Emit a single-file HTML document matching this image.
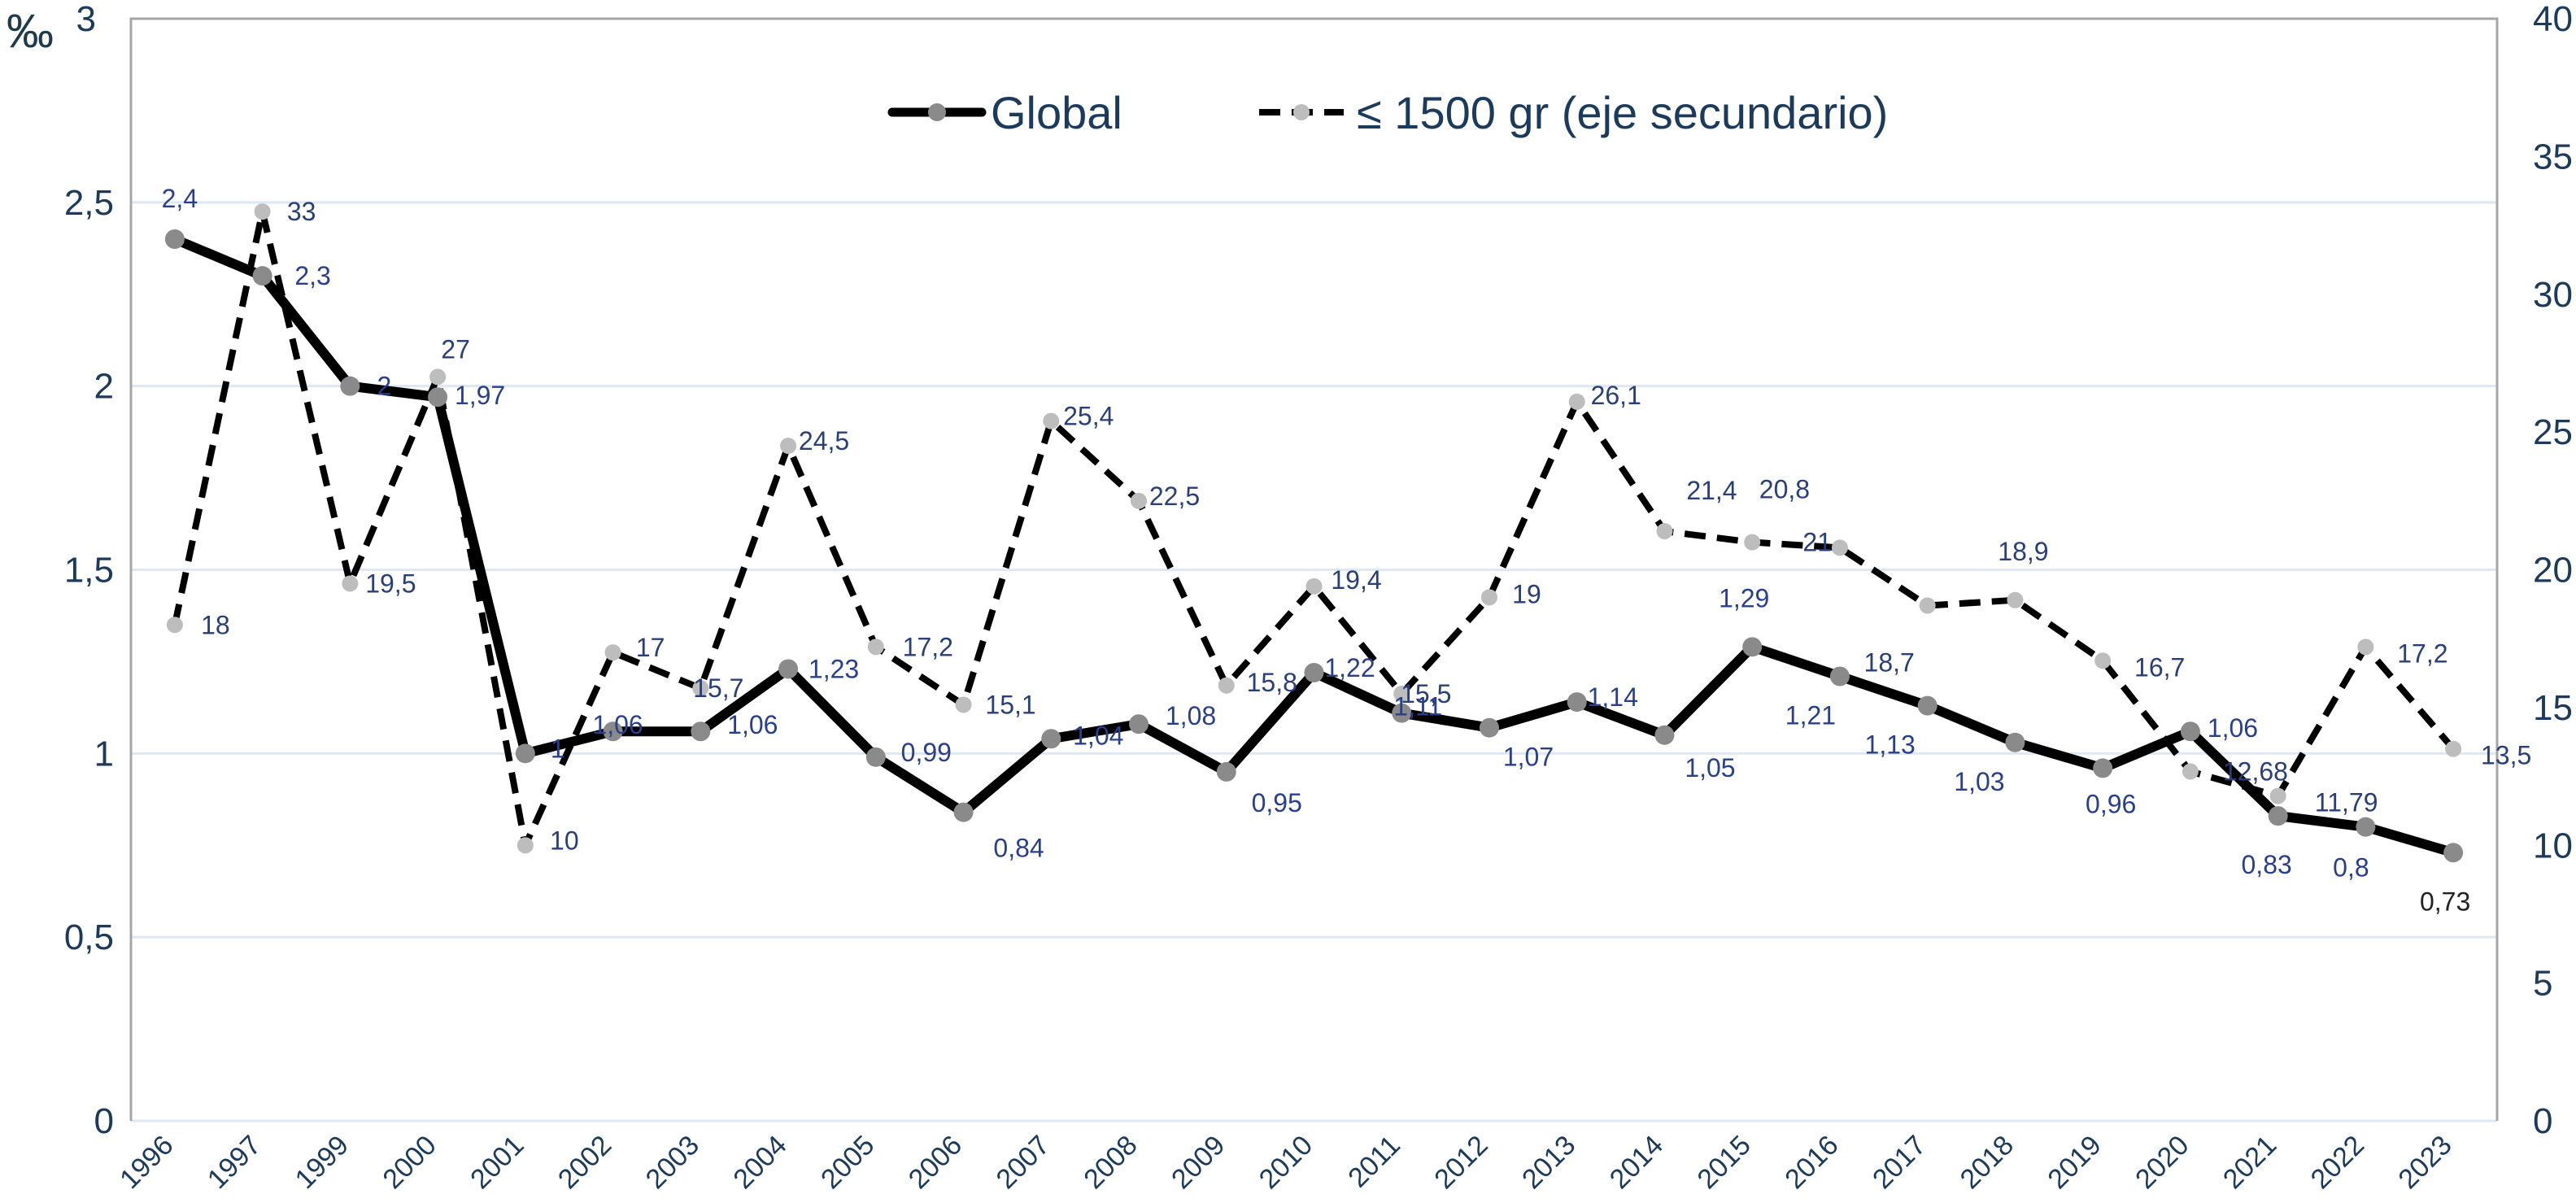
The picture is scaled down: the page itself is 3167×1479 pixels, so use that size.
<!DOCTYPE html>
<html><head><meta charset="utf-8"><style>
html,body{margin:0;padding:0;background:#fff;}
svg{display:block;font-family:"Liberation Sans",sans-serif;}
</style></head><body>
<svg id="chart" width="3167" height="1479" viewBox="0 0 3167 1479" xmlns="http://www.w3.org/2000/svg">
<rect x="0" y="0" width="3167" height="1479" fill="#fff"/>
<g id="grid"></g>
<g id="axes"></g>
<g id="series2"></g>
<g id="series1"></g>
<g id="labels"></g>
<text x="8" y="58" font-size="58" fill="#1d3b4a">‰</text>
<g>
 <g>
  <line x1="1097" y1="138" x2="1207" y2="138" stroke="#000" stroke-width="11" stroke-linecap="round"/>
  <circle cx="1152" cy="138" r="11" fill="#8a8a8a"/>
  <text x="1218" y="158" font-size="56" fill="#1b3a5c">Global</text>
 </g>
 <g>
  <line x1="1548" y1="138" x2="1652" y2="138" stroke="#000" stroke-width="8" stroke-dasharray="26 14"/>
  <circle cx="1600" cy="138" r="10" fill="#bdbdbd"/>
  <text x="1668" y="158" font-size="56" fill="#1b3a5c">≤ 1500 gr (eje secundario)</text>
 </g>
</g>
</svg>
<script>
const years = ["1996","1997","1999","2000","2001","2002","2003","2004","2005","2006","2007","2008","2009","2010","2011","2012","2013","2014","2015","2016","2017","2018","2019","2020","2021","2022","2023"];
const globalValues = [2.4,2.3,2,1.97,1,1.06,1.06,1.23,0.99,0.84,1.04,1.08,0.95,1.22,1.11,1.07,1.14,1.05,1.29,1.21,1.13,1.03,0.96,1.06,0.83,0.8,0.73];
const vlbwValues = [18,33,19.5,27,10,17,15.7,24.5,17.2,15.1,25.4,22.5,15.8,19.4,15.5,19,26.1,21.4,21,20.8,18.7,18.9,16.7,12.68,11.79,17.2,13.5];
const leftTicks = [0,0.5,1,1.5,2,2.5,3];
const leftTickLabels = ["0","0,5","1","1,5","2","2,5","3"];
const rightTicks = [0,5,10,15,20,25,30,35,40];
// label placement offsets (style, not data)
const gOff = [[6,-50],[62,0],[42,0],[52,-2],[40,-6],[6,-8],[64,-8],[56,0],[62,-6],[68,44],[58,-4],[64,-10],[62,38],[44,-6],[20,-8],[48,36],[44,-6],[56,40],[-10,-60],[-36,48],[-46,48],[-44,48],[10,44],[52,-4],[-14,60],[-18,50],[-10,60]];
const sOff = [[50,0],[48,0],[50,0],[22,-34],[48,-6],[46,-6],[22,0],[44,-6],[64,0],[58,0],[46,-6],[44,-6],[56,-4],[52,-8],[30,0],[46,-4],[48,-8],[58,-50],[80,0],[-68,-72],[-47,70],[10,-60],[70,8],[80,0],[84,8],[70,8],[65,8]];

const NS="http://www.w3.org/2000/svg";
const L=161, R=3070, T=23, B=1378;
const band=(R-L)/years.length;
const xPos=i=>L+(i+0.5)*band;
const yL=v=>B-(v/3)*(B-T);
const yR=v=>B-(v/40)*(B-T);
const fmt=v=>String(v).replace('.',',');
function mk(tag,attrs,parent){const e=document.createElementNS(NS,tag);for(const k in attrs)e.setAttribute(k,attrs[k]);parent.appendChild(e);return e;}
const grid=document.getElementById('grid'),axes=document.getElementById('axes');
leftTicks.forEach((t,i)=>{
  const gl=mk('line',{x1:L,x2:R,y1:yL(t),y2:yL(t),stroke:'#dde8f4','stroke-width':3},grid);
  
  
  const tx=mk('text',{x:i===6?118:140,y:yL(t)+15,'font-size':44,fill:'#1b3a5c','text-anchor':'end'},axes);
  tx.textContent=leftTickLabels[i];
  
  
});
rightTicks.forEach(t=>{
  const tx=mk('text',{x:3114,y:yR(t)+15,'font-size':44,fill:'#1b3a5c'},axes);
  tx.textContent=String(t);
  
  
});
const ax=mk('path',{d:`M${L},${B} V${T} H${R} V${B}`,fill:'none',stroke:'#a6a6a6','stroke-width':3},axes);


years.forEach((y,i)=>{
  const x=xPos(i);
  const tx=mk('text',{x:x,y:1410,'font-size':34,fill:'#1b3a5c','text-anchor':'end',transform:`rotate(-45 ${x} 1410)`},axes);
  tx.textContent=y;
  
  
});
// secondary dashed series
const s2=document.getElementById('series2');
const p2=mk('polyline',{points:vlbwValues.map((v,i)=>xPos(i)+','+yR(v)).join(' '),fill:'none',stroke:'#000','stroke-width':8,'stroke-dasharray':'26 14','stroke-linejoin':'round'},s2);


vlbwValues.forEach((v,i)=>{
  const c=mk('circle',{cx:xPos(i),cy:yR(v),r:10,fill:'#bdbdbd'},s2);
  
  
});
const s1=document.getElementById('series1');
const p1=mk('polyline',{points:globalValues.map((v,i)=>xPos(i)+','+yL(v)).join(' '),fill:'none',stroke:'#000','stroke-width':12,'stroke-linejoin':'round'},s1);


globalValues.forEach((v,i)=>{
  const c=mk('circle',{cx:xPos(i),cy:yL(v),r:12,fill:'#8a8a8a'},s1);
  
  
});
const lg=document.getElementById('labels');
vlbwValues.forEach((v,i)=>{
  const t=mk('text',{x:xPos(i)+sOff[i][0],y:yR(v)+sOff[i][1]+11,'font-size':32,fill:'#283f7a','text-anchor':'middle'},lg);
  t.textContent=fmt(v);
  
  
});
globalValues.forEach((v,i)=>{
  const t=mk('text',{x:xPos(i)+gOff[i][0],y:yL(v)+gOff[i][1]+11,'font-size':32,fill:i===globalValues.length-1?'#222':'#283f8f','text-anchor':'middle'},lg);
  t.textContent=fmt(v);
  
  
});
</script>
</body></html>
